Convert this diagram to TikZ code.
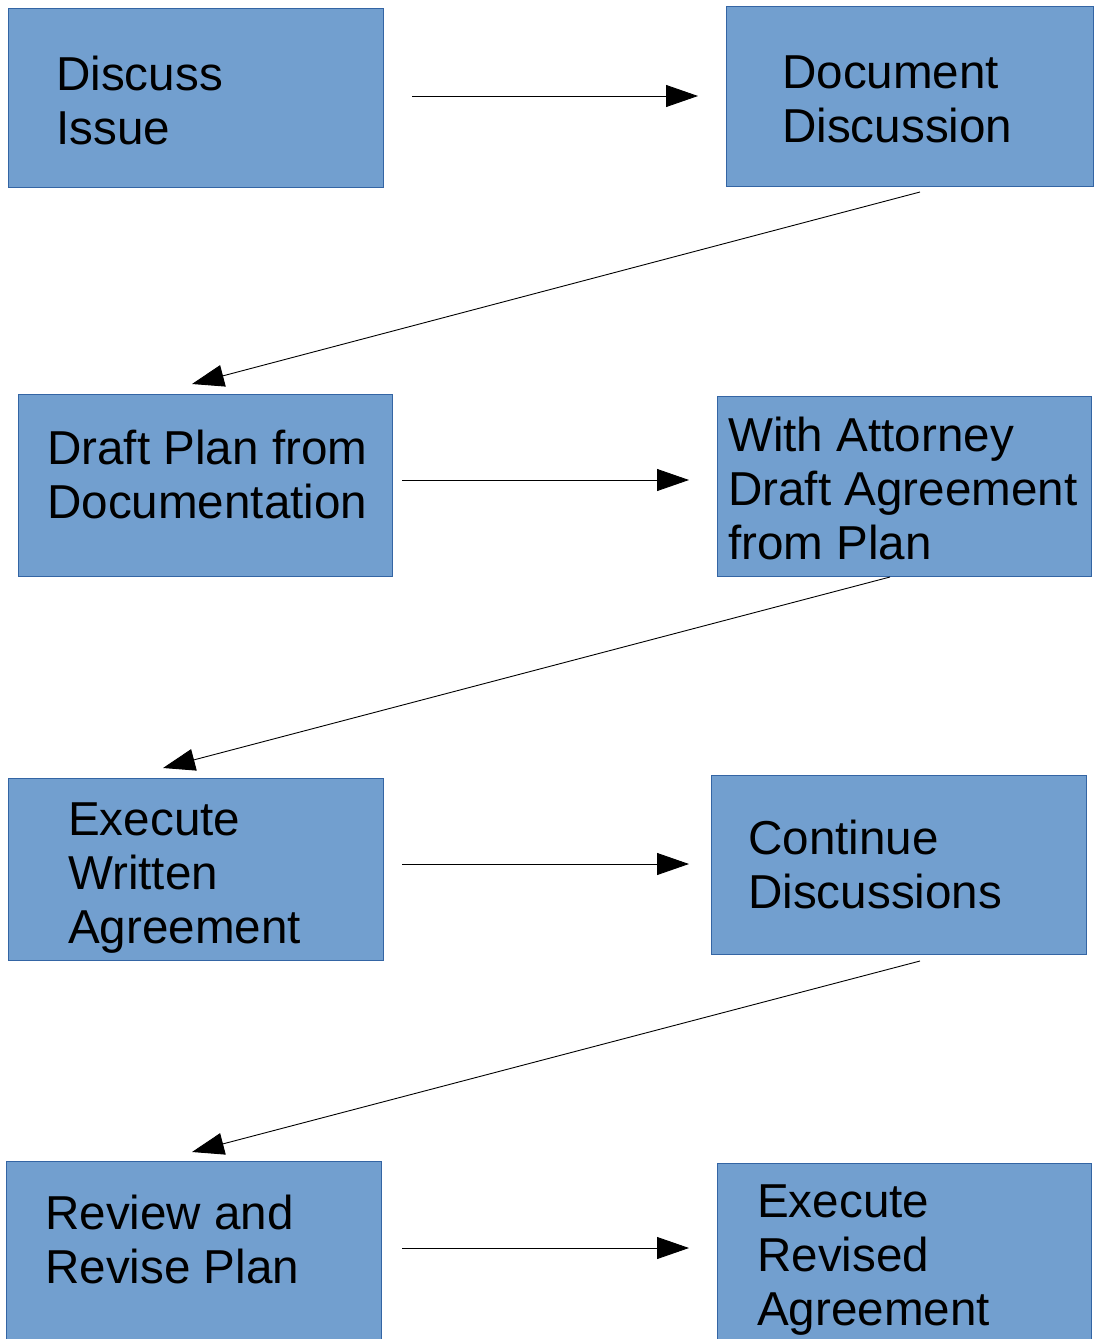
\documentclass[tikz,border=0pt]{standalone}
\usepackage{fontspec}
\setmainfont{Liberation Sans}
\usetikzlibrary{arrows.meta}
\definecolor{boxfill}{HTML}{729FCF}
\definecolor{boxline}{HTML}{3465A4}
\newcommand{\lbl}[1]{\parbox[t]{360pt}{\fontsize{47.6}{54}\selectfont\raggedright #1}}
\begin{document}
\begin{tikzpicture}[x=1pt,y=-1pt,
  stepbox/.style={draw=boxline,fill=boxfill,line width=1pt,inner sep=0pt,anchor=north west},
  txt/.style={anchor=base west,inner sep=0pt,text=black},
  conn/.style={line width=0.9pt,-{Triangle[length=32pt,width=22pt]}}]
\useasboundingbox (0,0) rectangle (1094,1339);
% boxes
\node[stepbox,minimum width=375pt,minimum height=179pt] (b1) at (8,8) {};
\node[stepbox,minimum width=367pt,minimum height=180pt] (b2) at (726,6) {};
\node[stepbox,minimum width=374pt,minimum height=182pt] (b3) at (18,394) {};
\node[stepbox,minimum width=374pt,minimum height=180pt] (b4) at (717,396) {};
\node[stepbox,minimum width=375pt,minimum height=182pt] (b5) at (8,778) {};
\node[stepbox,minimum width=375pt,minimum height=179pt] (b6) at (711,775) {};
\node[stepbox,minimum width=375pt,minimum height=182pt] (b7) at (6,1161) {};
\node[stepbox,minimum width=374pt,minimum height=180pt] (b8) at (717,1163) {};
% texts
\node[txt] (t1) at (56,90) {\lbl{Discuss\\Issue}};
\node[txt] (t2) at (782,88) {\lbl{Document\\Discussion}};
\node[txt] (t3) at (47,464) {\lbl{Draft Plan from\\Documentation}};
\node[txt] (t4) at (728,451) {\lbl{With Attorney\\Draft Agreement\\from Plan}};
\node[txt] (t5) at (68,835) {\lbl{Execute\\Written\\Agreement}};
\node[txt] (t6) at (748,854) {\lbl{Continue\\Discussions}};
\node[txt] (t7) at (45,1229) {\lbl{Review and\\Revise Plan}};
\node[txt] (t8) at (757,1217) {\lbl{Execute\\Revised\\Agreement}};
% connector ends
\coordinate (a1s) at (412,96);  \coordinate (a1e) at (698,96);
\coordinate (a2s) at (920,192); \coordinate (a2e) at (192,384);
\coordinate (a3s) at (402,480); \coordinate (a3e) at (689,480);
\coordinate (a4s) at (890,577); \coordinate (a4e) at (163,768);
\coordinate (a5s) at (402,864); \coordinate (a5e) at (689,864);
\coordinate (a6s) at (920,961); \coordinate (a6e) at (192,1152);
\coordinate (a7s) at (402,1248); \coordinate (a7e) at (689,1248);
\draw[conn] (a1s) -- (a1e);
\draw[conn] (a2s) -- (a2e);
\draw[conn] (a3s) -- (a3e);
\draw[conn] (a4s) -- (a4e);
\draw[conn] (a5s) -- (a5e);
\draw[conn] (a6s) -- (a6e);
\draw[conn] (a7s) -- (a7e);
\end{tikzpicture}
\end{document}
